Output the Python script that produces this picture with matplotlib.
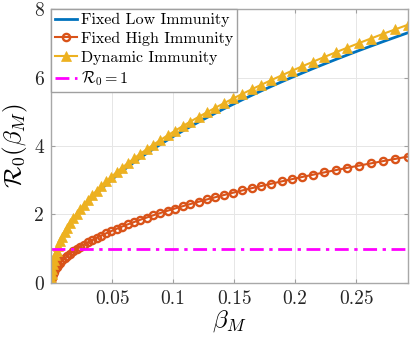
import matplotlib
matplotlib.use("Agg")
import matplotlib.pyplot as plt

plt.rcParams['font.family'] = 'cmr10'
plt.rcParams['mathtext.fontset'] = 'cm'
plt.rcParams['axes.formatter.use_mathtext'] = True

# beta_M sample points
beta_m = [0.0, 0.000093, 0.000373, 0.000839, 0.001492, 0.002331, 0.003357, 0.004569,
          0.005967, 0.007552, 0.009324, 0.011282, 0.013427, 0.015758, 0.018275, 0.020979,
          0.023869, 0.026946, 0.030210, 0.033660, 0.037296, 0.041119, 0.045128, 0.049324,
          0.053706, 0.058275, 0.063030, 0.067972, 0.073100, 0.078415, 0.083916, 0.089604,
          0.095478, 0.101538, 0.107785, 0.114219, 0.120839, 0.127646, 0.134639, 0.141818,
          0.149184, 0.156737, 0.164475, 0.172401, 0.180513, 0.188811, 0.197296, 0.205967,
          0.214825, 0.223869, 0.233100, 0.242517, 0.252121, 0.261911, 0.271888, 0.282051,
          0.292400]

r0_low = [0.0, 0.131, 0.261, 0.392, 0.522, 0.653, 0.783, 0.914, 1.044, 1.175, 1.305, 1.436,
          1.566, 1.697, 1.828, 1.958, 2.089, 2.219, 2.350, 2.480, 2.611, 2.741, 2.872, 3.002,
          3.133, 3.263, 3.394, 3.524, 3.655, 3.786, 3.916, 4.047, 4.177, 4.308, 4.438, 4.569,
          4.699, 4.830, 4.960, 5.091, 5.221, 5.352, 5.483, 5.613, 5.744, 5.874, 6.005, 6.135,
          6.266, 6.396, 6.527, 6.657, 6.788, 6.918, 7.049, 7.179, 7.310]

r0_high = [0.0, 0.066, 0.132, 0.198, 0.264, 0.329, 0.395, 0.461, 0.527, 0.593, 0.659, 0.725,
           0.791, 0.857, 0.923, 0.988, 1.054, 1.120, 1.186, 1.252, 1.318, 1.384, 1.450, 1.516,
           1.581, 1.647, 1.713, 1.779, 1.845, 1.911, 1.977, 2.043, 2.109, 2.174, 2.240, 2.306,
           2.372, 2.438, 2.504, 2.570, 2.636, 2.702, 2.768, 2.833, 2.899, 2.965, 3.031, 3.097,
           3.163, 3.229, 3.295, 3.361, 3.426, 3.492, 3.558, 3.624, 3.690]

r0_dyn = [0.0, 0.135, 0.269, 0.404, 0.539, 0.674, 0.808, 0.943, 1.078, 1.212, 1.347, 1.482,
          1.617, 1.751, 1.886, 2.021, 2.155, 2.290, 2.425, 2.560, 2.694, 2.829, 2.964, 3.098,
          3.233, 3.368, 3.503, 3.637, 3.772, 3.907, 4.041, 4.176, 4.311, 4.446, 4.580, 4.715,
          4.850, 4.984, 5.119, 5.254, 5.389, 5.523, 5.658, 5.793, 5.927, 6.062, 6.197, 6.332,
          6.466, 6.601, 6.736, 6.870, 7.005, 7.140, 7.275, 7.409, 7.544]

threshold = 1.0

x_ticks = [0.05, 0.1, 0.15, 0.2, 0.25]
x_tick_labels = ['0.05', '0.1', '0.15', '0.2', '0.25']
y_ticks = [0, 2, 4, 6, 8]
y_tick_labels = ['0', '2', '4', '6', '8']

fig = plt.figure(figsize=(4.15, 3.38), dpi=100)
ax = fig.add_axes([0.123, 0.163, 0.860, 0.810])

ax.plot(beta_m, r0_low, color='#0072BD', lw=2.0, label='Fixed Low Immunity')
ax.plot(beta_m, r0_high, color='#D95319', lw=1.5, marker='o', ms=5.2, mew=1.7,
        mfc='none', label='Fixed High Immunity')
ax.plot(beta_m, r0_dyn, color='#EDB120', lw=1.5, marker='^', ms=7.5, mew=0.5,
        mfc='#EDB120', label='Dynamic Immunity')
ax.plot([0, beta_m[-1]], [threshold, threshold], color='#FF00FF', lw=2.0,
        ls=(0, (5, 2, 1.2, 2)), label=r'$\mathcal{R}_0 = 1$')

ax.set_xlim(0, beta_m[-1])
ax.set_ylim(0, 8)
ax.set_xticks(x_ticks)
ax.set_xticklabels(x_tick_labels)
ax.set_yticks(y_ticks)
ax.set_yticklabels(y_tick_labels)
ax.tick_params(direction='in', top=True, right=True, length=3, width=0.8,
               color='#a0a0a0', labelsize=14, labelcolor='#262626', pad=5)
ax.grid(True, color='#e6e6e6', lw=0.7)
ax.set_axisbelow(True)
for s in ax.spines.values():
    s.set_color('#a8a8a8')
    s.set_linewidth(1.0)

ax.set_xlabel(r'$\beta_M$', fontsize=18, labelpad=0)
ax.set_ylabel(r'$\mathcal{R}_0(\beta_M)$', fontsize=18, labelpad=3)

leg = ax.legend(loc='upper left', bbox_to_anchor=(0, 1), borderaxespad=0,
                fontsize=11.5, fancybox=False, framealpha=1, edgecolor='#a0a0a0',
                handlelength=1.4, handletextpad=0.2, labelspacing=0.28,
                borderpad=0.25)
leg.get_frame().set_linewidth(1.0)

fig.savefig('out.png', dpi=100)
